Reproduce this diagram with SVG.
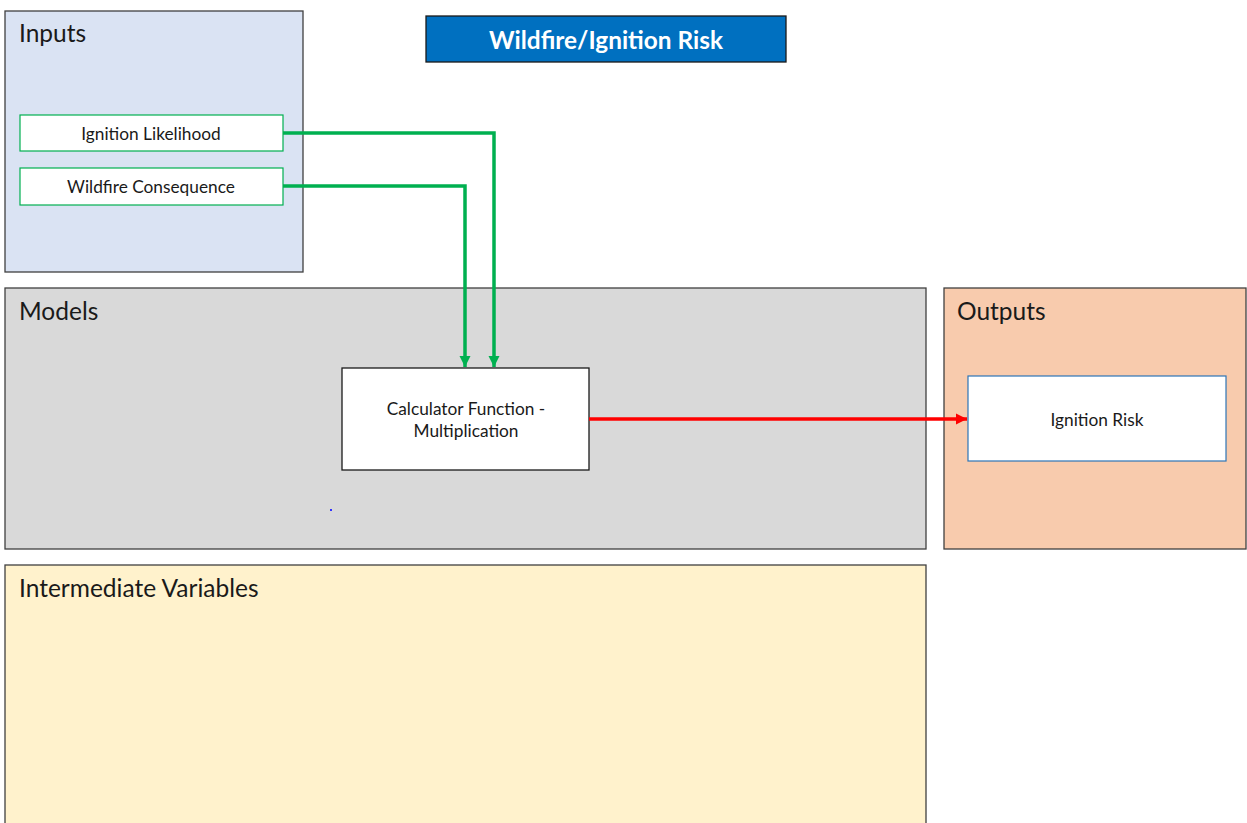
<svg xmlns="http://www.w3.org/2000/svg" width="1247" height="823" viewBox="0 0 1247 823">
<style>
.panel{stroke:#404040;stroke-width:1.3}
.hd{font-family:Lato,"Liberation Sans",sans-serif;font-size:24.5px;fill:#1a1a1a}
.lbl{font-family:Lato,"Liberation Sans",sans-serif;font-size:17.3px;fill:#1a1a1a;text-anchor:middle;dominant-baseline:central}
.gbox{fill:#fff;stroke:#00b050;stroke-width:1.2}
.g{fill:none;stroke:#00b050;stroke-width:3.5}
.r{fill:none;stroke:#ff0000;stroke-width:3.5}
</style>
<defs>
<marker id="ag" viewBox="0 0 10 10" refX="10" refY="5" markerWidth="3.2" markerHeight="3.2" orient="auto" markerUnits="strokeWidth"><path d="M0,0 L10,5 L0,10 z" fill="#00b050"/></marker>
<marker id="ar" viewBox="0 0 10 10" refX="10" refY="5" markerWidth="3.2" markerHeight="3.2" orient="auto" markerUnits="strokeWidth"><path d="M0,0 L10,5 L0,10 z" fill="#ff0000"/></marker>
</defs>
<rect width="1247" height="823" fill="#fff"/>
<g id="inputs">
<rect class="panel" x="5" y="11" width="298" height="261" fill="#dae3f3"/>
<text class="hd" x="19" y="42">Inputs</text>
</g>
<g id="title">
<rect x="426" y="16" width="360" height="46" fill="#0070c0" stroke="#1a1a1a" stroke-width="1.3"/>
<text x="606" y="39" font-family="Lato,'Liberation Sans',sans-serif" font-size="24.4" font-weight="bold" fill="#fff" text-anchor="middle" dominant-baseline="central">Wildfire/Ignition Risk</text>
</g>
<g id="models">
<rect class="panel" x="5" y="288" width="921" height="261" fill="#d9d9d9"/>
<text class="hd" x="19" y="320">Models</text>
</g>
<g id="outputs">
<rect class="panel" x="944" y="288" width="302" height="261" fill="#f8cbad"/>
<text class="hd" x="957" y="320">Outputs</text>
</g>
<g id="intermediate">
<rect class="panel" x="5" y="565" width="921" height="270" fill="#fff2cc"/>
<text class="hd" x="19" y="597">Intermediate Variables</text>
</g>
<g id="ignition-likelihood">
<rect class="gbox" x="20" y="115" width="263" height="36"/>
<text class="lbl" x="151" y="133">Ignition Likelihood</text>
</g>
<g id="wildfire-consequence">
<rect class="gbox" x="20" y="168" width="263" height="37"/>
<text class="lbl" x="151" y="186">Wildfire Consequence</text>
</g>
<g id="calculator">
<rect x="342" y="368" width="247" height="102" fill="#fff" stroke="#1a1a1a" stroke-width="1.3"/>
<text class="lbl" x="466" y="408">Calculator Function -</text>
<text class="lbl" x="466" y="430">Multiplication</text>
</g>
<g id="ignition-risk">
<rect x="968" y="376" width="258" height="85" fill="#fff" stroke="#2e75b6" stroke-width="1.2"/>
<text class="lbl" x="1097" y="419">Ignition Risk</text>
</g>
<rect x="330" y="509" width="2" height="2" fill="#3333ff"/>
<g id="connectors">
<path class="g" d="M283,133 H494 V367" marker-end="url(#ag)"/>
<path class="g" d="M283,186 H465 V367" marker-end="url(#ag)"/>
<path class="r" d="M589,419 H967" marker-end="url(#ar)"/>
</g>
</svg>
